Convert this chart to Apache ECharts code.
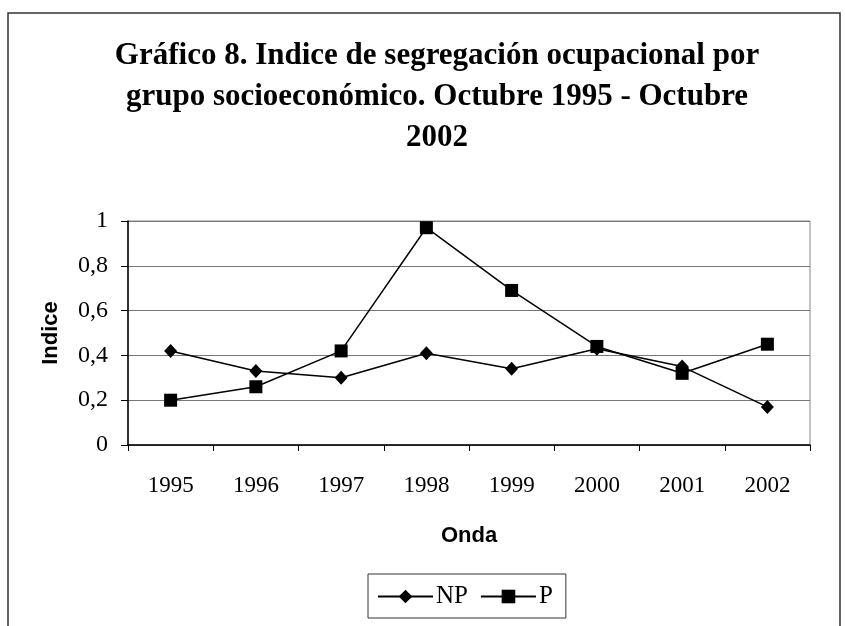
<!DOCTYPE html>
<html>
<head>
<meta charset="utf-8">
<script src="https://cdn.jsdelivr.net/npm/echarts@6/dist/echarts.min.js"></script>
<style>
  html, body { margin: 0; padding: 0; background: #fff; }
  #chart { width: 845px; height: 626px; }
</style>
</head>
<body>
<div id="chart"></div>
<script>
// ondas (años)
var years = ["1995", "1996", "1997", "1998", "1999", "2000", "2001", "2002"];
// indice de segregación
var npValues = [0.42, 0.33, 0.30, 0.41, 0.34, 0.43, 0.35, 0.17];
var pValues = [0.20, 0.26, 0.42, 0.97, 0.69, 0.44, 0.32, 0.45];
var yTicks = [0, 0.2, 0.4, 0.6, 0.8, 1];

var myChart = echarts.init(document.getElementById("chart"));

var serif = "'Liberation Serif', 'Times New Roman', serif";
var sans = "'Liberation Sans', Arial, sans-serif";

var option = {
  animation: false,
  backgroundColor: "#fff",
  title: {
    text: "Gráfico 8. Indice de segregación ocupacional por\ngrupo socioeconómico. Octubre 1995 - Octubre\n2002",
    left: 432,
    top: 30,
    textAlign: "center",
    textStyle: {
      fontFamily: serif,
      fontWeight: "bold",
      fontSize: 31,
      lineHeight: 41,
      color: "#000",
    },
  },
  graphic: [
    {
      // marco del gráfico
      type: "rect",
      shape: { x: 8, y: 13, width: 832, height: 700 },
      style: { fill: "none", stroke: "#333", lineWidth: 1.5 },
      silent: true,
    },
  ],
  grid: {
    left: 128,
    right: 35,
    top: 221,
    bottom: 181,
    show: true,
    borderColor: "#888",
    borderWidth: 1,
    backgroundColor: "transparent",
  },
  legend: {
    data: ["NP", "P"],
    left: 368,
    top: 574,
    orient: "horizontal",
    padding: [10, 13, 9, 9],
    borderColor: "#333",
    borderWidth: 1,
    itemWidth: 55,
    itemHeight: 17,
    itemGap: 12,
    textStyle: {
      fontFamily: serif,
      fontSize: 25,
      color: "#000",
      padding: [0, 0, 0, -2],
    },
  },
  xAxis: {
    type: "category",
    data: years,
    boundaryGap: true,
    name: "Onda",
    nameLocation: "middle",
    nameGap: 80,
    nameTextStyle: {
      fontFamily: sans,
      fontWeight: "bold",
      fontSize: 22,
      color: "#000",
    },
    axisLine: { lineStyle: { color: "#000", width: 1.5 } },
    axisTick: { show: true, alignWithLabel: false, length: 6, lineStyle: { color: "#000" } },
    axisLabel: {
      margin: 29,
      fontFamily: serif,
      fontSize: 23,
      color: "#000",
    },
    splitLine: { show: false },
  },
  yAxis: {
    type: "value",
    min: 0,
    max: 1,
    interval: 0.2,
    name: "Indice",
    nameLocation: "middle",
    nameGap: 66,
    nameTextStyle: {
      fontFamily: sans,
      fontWeight: "bold",
      fontSize: 22,
      color: "#000",
    },
    axisLine: { show: true, lineStyle: { color: "#000", width: 1.5 } },
    axisTick: { show: true, length: 7, lineStyle: { color: "#000" } },
    axisLabel: {
      margin: 20,
      fontFamily: serif,
      fontSize: 24,
      color: "#000",
      formatter: function (v) {
        return String(v).replace(".", ",");
      },
    },
    splitLine: { show: true, lineStyle: { color: "#777", width: 1 } },
  },
  series: [
    {
      name: "NP",
      type: "line",
      data: npValues,
      symbol: "diamond",
      symbolSize: [13, 14],
      showAllSymbol: true,
      itemStyle: { color: "#000" },
      lineStyle: { color: "#000", width: 1.5 },
    },
    {
      name: "P",
      type: "line",
      data: pValues,
      symbol: "rect",
      symbolSize: 13,
      showAllSymbol: true,
      itemStyle: { color: "#000" },
      lineStyle: { color: "#000", width: 1.5 },
    },
  ],
};

myChart.setOption(option);
window.addEventListener("resize", function () {
  myChart.resize();
});
</script>
</body>
</html>
